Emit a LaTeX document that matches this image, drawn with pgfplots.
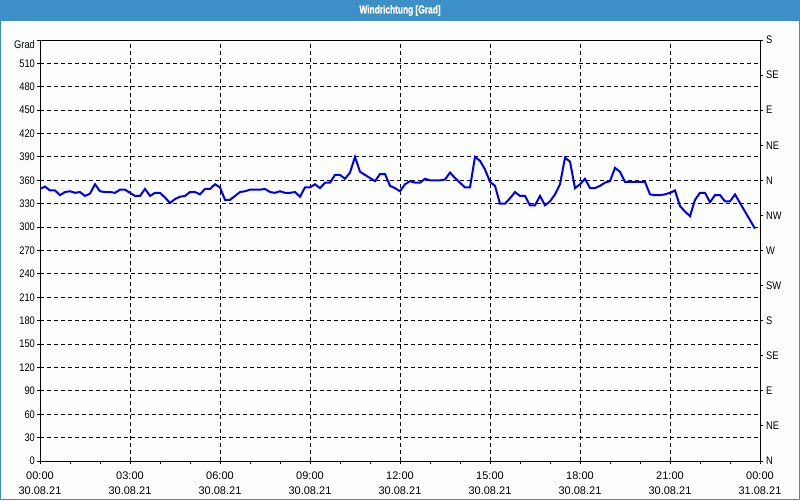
\documentclass[border=0pt]{standalone}
\usepackage{pgfplots}
\pgfplotsset{compat=1.18}
\usepackage{fontspec}
\setmainfont{Liberation Sans}
\newfontfamily\narrowfont[FakeStretch=0.85]{Liberation Sans}
\newfontfamily\titlefont[FakeStretch=0.72, FakeBold=0.8]{Liberation Sans Bold}
\definecolor{barblue}{RGB}{61,143,199}
\definecolor{bg}{RGB}{252,253,253}
\definecolor{lineblue}{RGB}{0,0,240}
\begin{document}
\begin{tikzpicture}[x=0.5pt,y=0.5pt]
\useasboundingbox (0,0) rectangle (800,500);
\fill[bg] (0,0) rectangle (800,500);
\fill[barblue] (0,479) rectangle (800,500);
\draw[barblue, line width=0.5pt] (0.5,0.5) rectangle (799.5,499.5);
\node[white, font=\titlefont\fontsize{5.8}{6}\selectfont] at (400,489.5) {Windrichtung [Grad]};
\begin{axis}[
  at={(20pt,19.5pt)}, anchor=south west, scale only axis,
  width=360pt, height=210.5pt,
  xmin=0, xmax=24, ymin=0, ymax=540,
  xtick={0,3,...,24}, minor x tick num=2,
  xticklabels={{00:00\\30.08.21},{03:00\\30.08.21},{06:00\\30.08.21},{09:00\\30.08.21},{12:00\\30.08.21},{15:00\\30.08.21},{18:00\\30.08.21},{21:00\\30.08.21},{00:00\\31.08.21}},
  ytick={0,30,...,510},
  yticklabels={0,30,60,90,120,150,180,210,240,270,300,330,360,390,420,450,480,510},
  extra y ticks={540}, extra y tick labels={Grad},
  extra y tick style={grid=none, yticklabel style={yshift=-2.5pt}},
  grid=major,
  major grid style={black, dash pattern=on 2pt off 1.5pt, line width=0.5pt},
  axis line style={black, line width=0.5pt},
  tick align=outside, major tick length=1.5pt, minor tick length=1.5pt,
  tick style={black, line width=0.5pt},
  xtick pos=bottom, ytick pos=left,
  xticklabel style={align=center, font=\fontsize{5.5}{7.5}\selectfont, yshift=-0.5pt},
  yticklabel style={font=\narrowfont\fontsize{5.5}{6}\selectfont, xshift=2.5pt},
]
\addplot[lineblue, line width=1pt] coordinates {
(0,349) (0.167,352) (0.333,347) (0.5,347) (0.667,341) (0.833,345) (1,346) (1.167,344) (1.333,345) (1.5,340) (1.667,343) (1.833,355)
(2,346) (2.167,345) (2.333,345) (2.5,344) (2.667,348) (2.833,348) (3,344) (3.167,340) (3.333,340) (3.5,349) (3.667,340) (3.833,344)
(4,344) (4.167,338) (4.333,331) (4.5,336) (4.667,339) (4.833,340) (5,345) (5.167,345) (5.333,342) (5.5,349) (5.667,349) (5.833,355)
(6,351) (6.167,335) (6.333,335) (6.5,340) (6.667,345) (6.833,346) (7,348) (7.167,348) (7.333,348) (7.5,349) (7.667,345) (7.833,344)
(8,346) (8.167,344) (8.333,344) (8.5,345) (8.667,339) (8.833,351) (9,351) (9.167,355) (9.333,350) (9.5,357) (9.667,357) (9.833,367)
(10,367) (10.167,362) (10.333,370) (10.5,390) (10.667,371) (10.833,367) (11,363) (11.167,359) (11.333,368) (11.5,368) (11.667,353) (11.833,350)
(12,346) (12.167,355) (12.333,359) (12.5,357) (12.667,357) (12.833,362) (13,360) (13.167,360) (13.333,360) (13.5,361) (13.667,370) (13.833,363)
(14,357) (14.167,351) (14.333,351) (14.5,390) (14.667,385) (14.833,374) (15,358) (15.167,353) (15.333,330) (15.5,330) (15.667,337) (15.833,345)
(16,340) (16.167,340) (16.333,328) (16.5,328) (16.667,340) (16.833,328) (17,333) (17.167,342) (17.333,355) (17.5,389) (17.667,384) (17.833,350)
(18,355) (18.167,362) (18.333,350) (18.5,350) (18.667,353) (18.833,357) (19,359) (19.167,376) (19.333,371) (19.5,358) (19.667,358) (19.833,358)
(20,358) (20.167,358) (20.333,342) (20.5,341) (20.667,341) (20.833,342) (21,344) (21.167,347) (21.333,327) (21.5,320) (21.667,314) (21.833,335)
(22,344) (22.167,344) (22.333,332) (22.5,341) (22.667,341) (22.833,333) (23,333) (23.167,342) (23.333,331) (23.5,320) (23.667,309) (23.833,298)
};
\end{axis}
\begin{axis}[
  at={(20pt,19.5pt)}, anchor=south west, scale only axis,
  width=360pt, height=210.5pt,
  xmin=0, xmax=24, ymin=0, ymax=540,
  axis x line=none, axis y line*=right,
  ytick={0,45,...,540},
  yticklabels={N,NE,E,SE,S,SW,W,NW,N,NE,E,SE,S},
  axis line style={black, line width=0.5pt, -},
  tick align=outside, major tick length=1.5pt,
  tick style={black, line width=0.5pt},
  yticklabel style={font=\narrowfont\fontsize{5.5}{6}\selectfont, anchor=west, xshift=-2pt},
]
\end{axis}
\end{tikzpicture}
\end{document}
